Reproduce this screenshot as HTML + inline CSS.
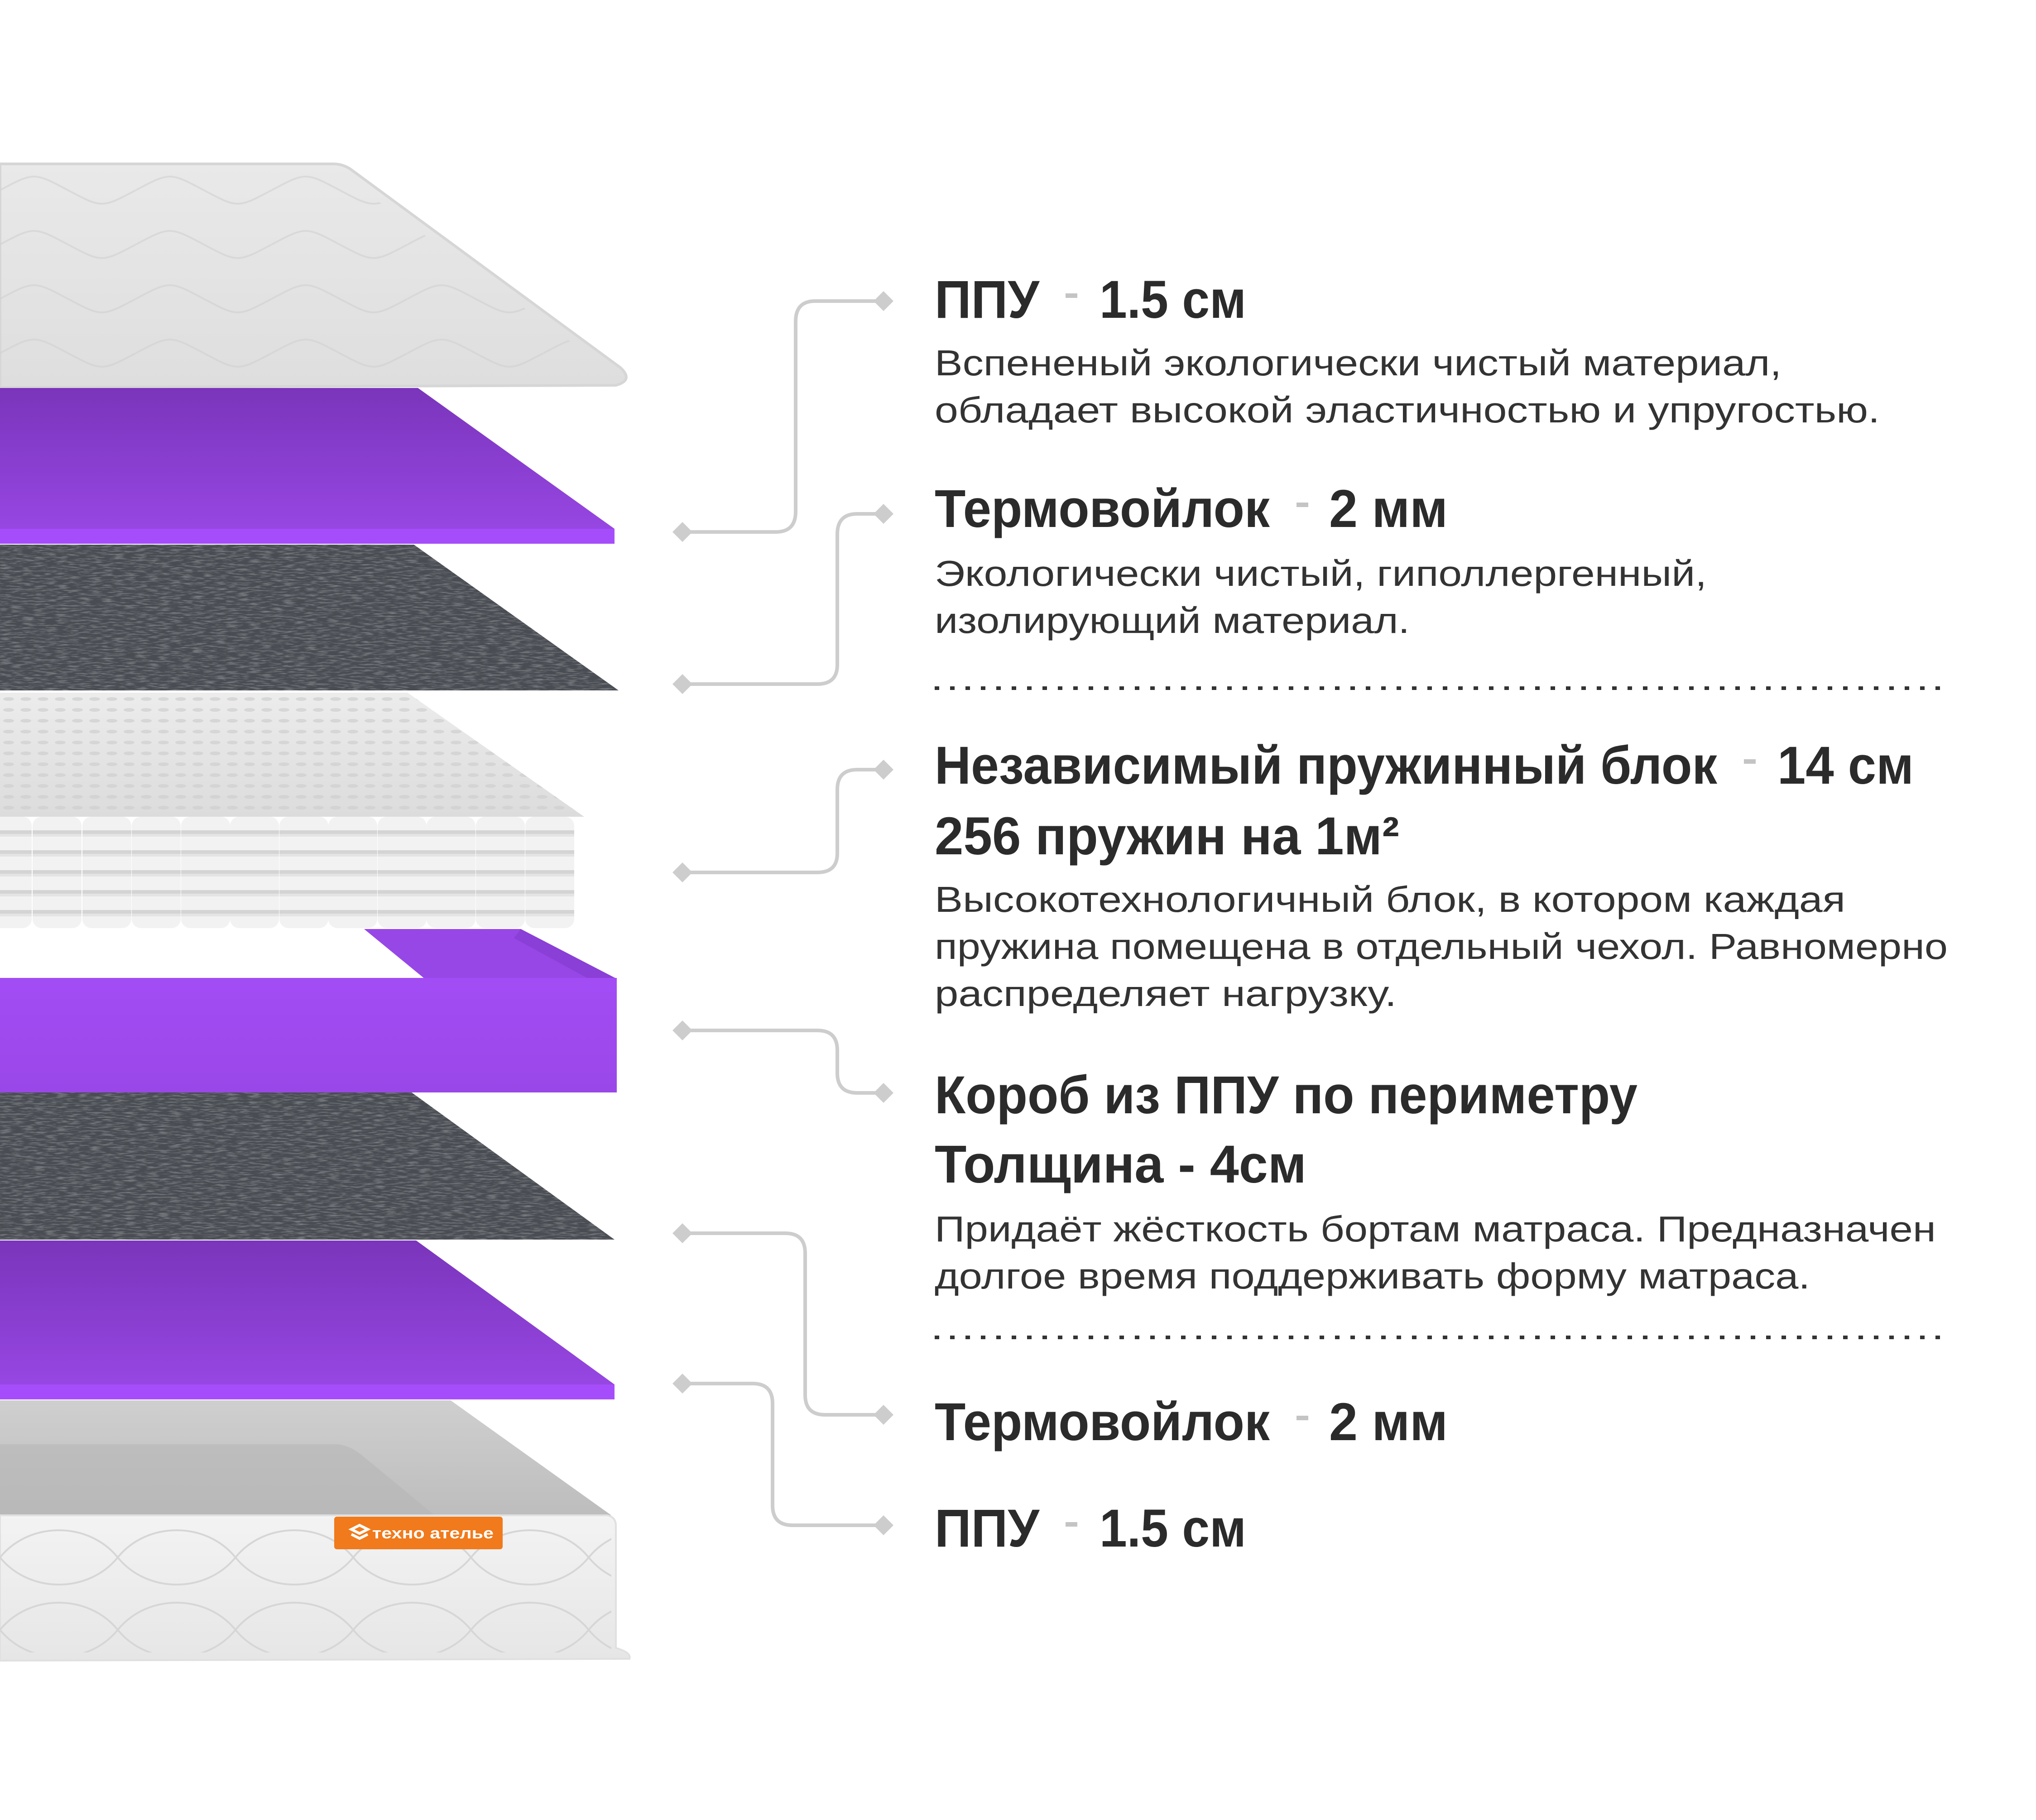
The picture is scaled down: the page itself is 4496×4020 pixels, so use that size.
<!DOCTYPE html>
<html><head><meta charset="utf-8"><style>
html,body{margin:0;padding:0;background:#fff}
svg{display:block}
.t{font-family:"Liberation Sans",sans-serif;font-weight:bold;font-size:118px;fill:#2b2b2b}
.b{font-family:"Liberation Sans",sans-serif;font-size:80px;fill:#333}
</style></head><body>
<svg width="4496" height="4020" viewBox="0 0 4496 4020" xmlns="http://www.w3.org/2000/svg">
<defs>
<linearGradient id="pur1" x1="0" y1="0" x2="0" y2="1"><stop offset="0" stop-color="#7a35bb"/><stop offset="1" stop-color="#9a48e6"/></linearGradient>
<linearGradient id="pur2" x1="0" y1="0" x2="0" y2="1"><stop offset="0" stop-color="#a24cf5"/><stop offset="1" stop-color="#9a47e8"/></linearGradient>
<linearGradient id="cov" x1="0" y1="0" x2="0" y2="1"><stop offset="0" stop-color="#e9e9e9"/><stop offset="1" stop-color="#dedede"/></linearGradient>
<linearGradient id="bt" x1="0" y1="0" x2="0" y2="1"><stop offset="0" stop-color="#cfcfcf"/><stop offset="1" stop-color="#bdbdbd"/></linearGradient>
<linearGradient id="side" x1="0" y1="0" x2="0" y2="1"><stop offset="0" stop-color="#f3f3f3"/><stop offset="1" stop-color="#e6e6e6"/></linearGradient>
<linearGradient id="sprTop" x1="0" y1="0" x2="0" y2="1"><stop offset="0" stop-color="#ececec"/><stop offset="1" stop-color="#dcdcdc"/></linearGradient>
<pattern id="coil" x="0" y="1804" width="20" height="44" patternUnits="userSpaceOnUse">
<rect width="20" height="44" fill="#f2f2f2"/><rect y="30" width="20" height="8" fill="#d4d4d4"/><rect y="38" width="20" height="6" fill="#e4e4e4"/></pattern>
<pattern id="dots" x="0" y="1530" width="38" height="24" patternUnits="userSpaceOnUse">
<ellipse cx="19" cy="14" rx="12" ry="4" fill="#cfcfcf" opacity=".7"/></pattern>
<pattern id="quilt" width="300" height="120" patternUnits="userSpaceOnUse">
<path d="M0 60 C75 20 75 20 150 60 S225 100 300 60" fill="none" stroke="#d0d0d0" stroke-width="4" opacity=".6"/></pattern>
<pattern id="quilt2" width="260" height="160" patternUnits="userSpaceOnUse">
<path d="M0 80 C65 0 195 0 260 80 M0 80 C65 160 195 160 260 80" fill="none" stroke="#d6d6d6" stroke-width="4"/></pattern>
<filter id="felt" x="0" y="0" width="1" height="1">
<feTurbulence type="fractalNoise" baseFrequency="0.04 0.3" numOctaves="3" seed="3"/>
<feColorMatrix type="matrix" values="0 0 0 0 0.42  0 0 0 0 0.44  0 0 0 0 0.47  0 0 0 -0.9 0.5"/>
<feComposite in2="SourceGraphic" operator="in"/>
<feMerge><feMergeNode in="SourceGraphic"/><feMergeNode/></feMerge>
</filter>
</defs>

<!-- top cover -->
<path d="M0 362 L736 362 Q760 362 780 378 L1370 812 Q1400 840 1360 851 L0 856 Z" fill="url(#cov)" stroke="#d6d6d6" stroke-width="6"/>
<path d="M0 372 L736 372 L1370 835 L0 835 Z" fill="url(#quilt)"/>
<!-- purple 1 -->
<path d="M0 857 L923 857 L1357 1168 L1357 1201 L0 1201 Z" fill="url(#pur1)"/>
<rect x="0" y="1168" width="1357" height="33" fill="#a64dfb"/>
<!-- felt 1 -->
<path d="M0 1203 L914 1203 L1366 1525 L0 1525 Z" fill="#4a4e53" filter="url(#felt)"/>
<!-- spring block top -->
<path d="M0 1530 L900 1530 L1290 1804 L0 1804 Z" fill="url(#sprTop)"/>
<path d="M0 1530 L900 1530 L1290 1804 L0 1804 Z" fill="url(#dots)"/>
<!-- purple box -->
<path d="M804 2052 L1150 2052 L1362 2162 L938 2162 Z" fill="#9747e6"/>
<path d="M1150 2052 L1362 2162 L1300 2162 L1135 2072 Z" fill="#8a3fd6"/>
<rect x="0" y="2160" width="1362" height="253" fill="url(#pur2)"/>
<!-- springs -->
<g>
<rect x="-40" y="1804" width="110" height="246" rx="20" fill="url(#coil)"/>
<rect x="72" y="1804" width="108" height="246" rx="20" fill="url(#coil)"/>
<rect x="182" y="1804" width="108" height="246" rx="20" fill="url(#coil)"/>
<rect x="291" y="1804" width="108" height="246" rx="20" fill="url(#coil)"/>
<rect x="400" y="1804" width="108" height="246" rx="20" fill="url(#coil)"/>
<rect x="508" y="1804" width="108" height="246" rx="20" fill="url(#coil)"/>
<rect x="617" y="1804" width="108" height="246" rx="20" fill="url(#coil)"/>
<rect x="725" y="1804" width="108" height="246" rx="20" fill="url(#coil)"/>
<rect x="834" y="1804" width="108" height="246" rx="20" fill="url(#coil)"/>
<rect x="942" y="1804" width="108" height="246" rx="20" fill="url(#coil)"/>
<rect x="1051" y="1804" width="108" height="246" rx="20" fill="url(#coil)"/>
<rect x="1160" y="1804" width="108" height="246" rx="20" fill="url(#coil)"/>
</g>
<!-- felt 2 -->
<path d="M0 2413 L909 2413 L1357 2738 L0 2738 Z" fill="#4a4e53" filter="url(#felt)"/>
<!-- purple 3 -->
<path d="M0 2740 L919 2740 L1357 3058 L1357 3091 L0 3091 Z" fill="url(#pur1)"/>
<rect x="0" y="3058" width="1357" height="33" fill="#a64dfb"/>
<!-- bottom mattress -->
<path d="M0 3093 L995 3093 L1350 3347 L0 3347 Z" fill="url(#bt)"/>
<path d="M0 3190 L740 3190 Q770 3190 800 3215 L960 3347 L0 3347 Z" fill="#b5b5b5" opacity=".6"/>
<path d="M0 3347 L1340 3347 Q1360 3350 1360 3370 L1360 3640 Q1395 3650 1390 3664 L0 3668 Z" fill="url(#side)" stroke="#e0e0e0" stroke-width="4"/>
<rect x="0" y="3360" width="1350" height="290" fill="url(#quilt2)"/>
<!-- label -->
<rect x="738" y="3350" width="372" height="72" rx="6" fill="#f07a1c"/>
<g fill="none" stroke="#fff" stroke-width="6"><path d="M776 3378 l18 -9 18 9 -18 9z"/><path d="M776 3389 l18 9 18 -9"/></g>
<text x="822" y="3398" font-family="Liberation Sans,sans-serif" font-weight="bold" font-size="34" fill="#fff" textLength="268" lengthAdjust="spacingAndGlyphs">техно ателье</text>

<!-- connectors -->
<g fill="none" stroke="#cdcdcd" stroke-width="8">
<path d="M1500 1175 H1713 Q1757 1175 1757 1130 V710 Q1757 665 1800 665 H1960"/>
<path d="M1500 1511 H1805 Q1849 1511 1849 1468 V1180 Q1849 1135 1893 1135 H1960"/>
<path d="M1500 1927 H1805 Q1849 1927 1849 1885 V1744 Q1849 1700 1893 1700 H1960"/>
<path d="M1500 2276 H1805 Q1849 2276 1849 2320 V2370 Q1849 2414 1893 2414 H1960"/>
<path d="M1500 2724 H1734 Q1778 2724 1778 2768 V3081 Q1778 3125 1822 3125 H1960"/>
<path d="M1500 3056 H1662 Q1706 3056 1706 3100 V3325 Q1706 3369 1750 3369 H1960"/>
</g>
<g fill="#cdcdcd">
<path d="M1485 1175 l22 -22 22 22 -22 22z"/><path d="M1485 1511 l22 -22 22 22 -22 22z"/>
<path d="M1485 1927 l22 -22 22 22 -22 22z"/><path d="M1485 2276 l22 -22 22 22 -22 22z"/>
<path d="M1485 2724 l22 -22 22 22 -22 22z"/><path d="M1485 3056 l22 -22 22 22 -22 22z"/>
<path d="M1929 665 l22 -22 22 22 -22 22z"/><path d="M1929 1135 l22 -22 22 22 -22 22z"/>
<path d="M1929 1700 l22 -22 22 22 -22 22z"/><path d="M1929 2414 l22 -22 22 22 -22 22z"/>
<path d="M1929 3125 l22 -22 22 22 -22 22z"/><path d="M1929 3369 l22 -22 22 22 -22 22z"/>
</g>

<!-- dotted lines -->
<line x1="2064" y1="1520" x2="4295" y2="1520" stroke="#333" stroke-width="8" stroke-dasharray="10 24"/>
<line x1="2064" y1="2954" x2="4295" y2="2954" stroke="#333" stroke-width="8" stroke-dasharray="10 24"/>

<!-- text -->
<g class="t">
<text x="2064" y="702" textLength="231" lengthAdjust="spacingAndGlyphs">ППУ</text>
<text x="2428" y="702" textLength="324" lengthAdjust="spacingAndGlyphs">1.5 см</text>
<text x="2064" y="1164" textLength="740" lengthAdjust="spacingAndGlyphs">Термовойлок</text>
<text x="2935" y="1164" textLength="262" lengthAdjust="spacingAndGlyphs">2 мм</text>
<text x="2064" y="1731" textLength="1728" lengthAdjust="spacingAndGlyphs">Независимый пружинный блок</text>
<text x="3925" y="1731" textLength="301" lengthAdjust="spacingAndGlyphs">14 см</text>
<text x="2064" y="1887" textLength="1026" lengthAdjust="spacingAndGlyphs">256 пружин на 1м²</text>
<text x="2064" y="2459" textLength="1552" lengthAdjust="spacingAndGlyphs">Короб из ППУ по периметру</text>
<text x="2064" y="2612" textLength="821" lengthAdjust="spacingAndGlyphs">Толщина - 4см</text>
<text x="2064" y="3181" textLength="740" lengthAdjust="spacingAndGlyphs">Термовойлок</text>
<text x="2935" y="3181" textLength="262" lengthAdjust="spacingAndGlyphs">2 мм</text>
<text x="2064" y="3416" textLength="231" lengthAdjust="spacingAndGlyphs">ППУ</text>
<text x="2428" y="3416" textLength="324" lengthAdjust="spacingAndGlyphs">1.5 см</text>
</g>
<g fill="#c4c4c4">
<rect x="2353" y="648" width="26" height="10"/><rect x="2863" y="1110" width="26" height="10"/>
<rect x="3851" y="1677" width="26" height="10"/><rect x="2863" y="3127" width="26" height="10"/>
<rect x="2353" y="3362" width="26" height="10"/>
</g>
<g class="b">
<text x="2064" y="829" textLength="1870" lengthAdjust="spacingAndGlyphs">Вспененый экологически чистый материал,</text>
<text x="2064" y="933" textLength="2087" lengthAdjust="spacingAndGlyphs">обладает высокой эластичностью и упругостью.</text>
<text x="2064" y="1294" textLength="1705" lengthAdjust="spacingAndGlyphs">Экологически чистый, гиполлергенный,</text>
<text x="2064" y="1398" textLength="1049" lengthAdjust="spacingAndGlyphs">изолирующий материал.</text>
<text x="2064" y="2014" textLength="2011" lengthAdjust="spacingAndGlyphs">Высокотехнологичный блок, в котором каждая</text>
<text x="2064" y="2118" textLength="2237" lengthAdjust="spacingAndGlyphs">пружина помещена в отдельный чехол. Равномерно</text>
<text x="2064" y="2222" textLength="1020" lengthAdjust="spacingAndGlyphs">распределяет нагрузку.</text>
<text x="2064" y="2742" textLength="2211" lengthAdjust="spacingAndGlyphs">Придаёт жёсткость бортам матраса. Предназначен</text>
<text x="2064" y="2846" textLength="1933" lengthAdjust="spacingAndGlyphs">долгое время поддерживать форму матраса.</text>
</g>
</svg>
</body></html>
